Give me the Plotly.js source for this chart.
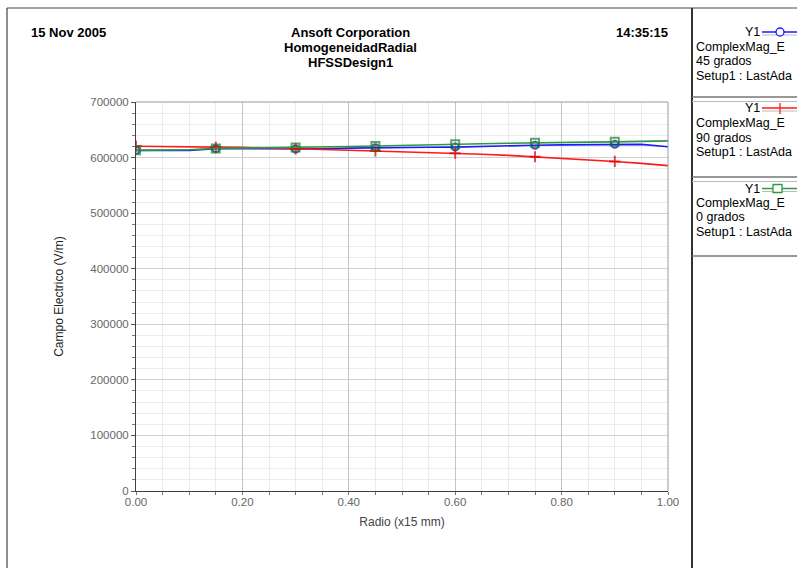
<!DOCTYPE html>
<html>
<head>
<meta charset="utf-8">
<script src="https://cdn.plot.ly/plotly-3.0.1.min.js"></script>
<style>html,body{margin:0;padding:0;background:#fff;}#chart{width:797px;height:568px;}</style>
</head>
<body>
<div id="chart"></div>
<script>
// ---- data ----
const radio = [0, 0.05, 0.10, 0.15, 0.20, 0.25, 0.30, 0.35, 0.40, 0.45, 0.50, 0.55, 0.60, 0.65, 0.70, 0.75, 0.80, 0.85, 0.90, 0.95, 1.00];
const campo45 = [613000, 612800, 613000, 616000, 615800, 615600, 615500, 615600, 617000, 617800, 618200, 618500, 618800, 620000, 622000, 622200, 622800, 623500, 623800, 623800, 619500];
const campo90 = [620500, 620200, 619800, 619000, 618300, 617300, 615500, 614500, 613300, 612000, 610800, 609300, 607800, 606000, 604000, 601500, 599000, 596200, 593000, 589500, 585500];
const campo0  = [613000, 613300, 614000, 616500, 617000, 617300, 618000, 618800, 619800, 620800, 621500, 622800, 624000, 624800, 625800, 626800, 627300, 627800, 628300, 629200, 630000];
const seriesNames = ["45 grados", "90 grados", "0 grados"];
const xTickVals = [0, 0.2, 0.4, 0.6, 0.8, 1.0];
const xTickText = ["0.00", "0.20", "0.40", "0.60", "0.80", "1.00"];
const yTickVals = [0, 100000, 200000, 300000, 400000, 500000, 600000, 700000];
const yTickText = ["0", "100000", "200000", "300000", "400000", "500000", "600000", "700000"];

// ---- layout helpers (pixel -> paper) ----
const L = 136, R = 668, T = 102, B = 491, W = 797, H = 568;
const X = p => (p - L) / (R - L);
const Y = p => (B - p) / (B - T);
const FONT = "Liberation Sans, Arial, sans-serif";

const mk = radio.map((v, i) => (i % 3 === 0 ? 1 : 0));
const blue = "#1a1aff", red = "#ff1a1a", green = "#2e9a3e";

const traces = [
  {x: radio, y: campo45, mode: "lines+markers", line: {color: blue, width: 1.6},
   marker: {symbol: "circle-open", size: mk.map(m => m * 7), color: "#0000cc", line: {width: 2}}},
  {x: radio, y: campo90, mode: "lines+markers", line: {color: red, width: 1.6},
   marker: {symbol: "cross-thin-open", size: mk.map(m => m * 8), color: "#dd0000", line: {width: 2}}},
  {x: radio, y: campo0, mode: "lines+markers", line: {color: green, width: 1.6},
   marker: {symbol: "square-open", size: mk.map(m => m * 8), color: "#1f7a2c", line: {width: 2}}}
];

const ann = [];
function txt(t, px, py, opt) {
  ann.push(Object.assign({text: t, xref: "paper", yref: "paper", x: X(px), y: Y(py),
    showarrow: false, xanchor: "left", yanchor: "middle",
    font: {family: FONT, size: 13, color: "#000"}}, opt || {}));
}
// header
txt("<b>15 Nov 2005</b>", 29, 33);
txt("<b>Ansoft Corporation</b>", 350, 33, {xanchor: "center"});
txt("<b>HomogeneidadRadial</b>", 350, 47.5, {xanchor: "center"});
txt("<b>HFSSDesign1</b>", 350, 62, {xanchor: "center"});
txt("<b>14:35:15</b>", 670, 33, {xanchor: "right"});

// legend panel
const legY = [[32, 46.5, 61, 75.5], [108, 123, 137.5, 152], [188.5, 202.5, 217, 231.5]];
const legCol = [blue, red, green];
const LF = {family: FONT, size: 12.5, color: "#000"};
const shapes = [];
function ln(x0, y0, x1, y1, color, width) {
  shapes.push({type: "line", xref: "paper", yref: "paper", x0: X(x0), y0: Y(y0), x1: X(x1), y1: Y(y1),
    line: {color: color, width: width}});
}
for (let i = 0; i < 3; i++) {
  const ys = legY[i];
  txt("Y1", 762, ys[0], {xanchor: "right", font: LF});
  txt("ComplexMag_E", 694, ys[1], {font: LF});
  txt(seriesNames[i], 694, ys[2], {font: LF});
  txt("Setup1 : LastAda", 694, ys[3], {font: LF});
  ln(762, ys[0], 810, ys[0], legCol[i], 1.3);
  ln(762, ys[0] + 3, 810, ys[0] + 3, "#bbbbbb", 1.2);
}
// legend sample markers
shapes.push({type: "circle", xref: "paper", yref: "paper", x0: X(776), x1: X(784), y0: Y(28), y1: Y(36),
  line: {color: blue, width: 1.3}, fillcolor: "#fff"});
ln(780, 103, 780, 114, red, 1.3);
shapes.push({type: "rect", xref: "paper", yref: "paper", x0: X(773), x1: X(782), y0: Y(184.5), y1: Y(192.5),
  line: {color: green, width: 1.3}, fillcolor: "#fff"});

// frame
ln(7, 8, 800, 8, "#444", 1.2);
ln(7, 8, 7, 570, "#444", 1.2);
ln(692, 8, 692, 570, "#333", 2);
ln(692, 97, 800, 97, "#777", 1.5);
ln(692, 101.5, 800, 101.5, "#bbb", 1.2);
ln(692, 177, 800, 177, "#777", 1.5);
ln(692, 181.5, 800, 181.5, "#bbb", 1.2);
ln(692, 256, 800, 256, "#777", 1.5);
// plot top/right border
ln(L, T, R, T, "#999", 1);
ln(R, T, R, B, "#999", 1);

const layout = {
  width: W, height: H,
  margin: {l: L, r: W - R, t: T, b: H - B, pad: 0},
  paper_bgcolor: "#fff", plot_bgcolor: "#fff",
  showlegend: false,
  font: {family: FONT, color: "#555"},
  xaxis: {
    range: [0, 1], tickvals: xTickVals, ticktext: xTickText,
    showline: true, linecolor: "#404040", linewidth: 1,
    ticks: "", ticklen: 0,
    tickfont: {family: FONT, size: 11.5, color: "#666"},
    showgrid: true, gridcolor: "#c4c4c4", gridwidth: 1, zeroline: false,
    minor: {dtick: 0.05, tick0: 0, showgrid: true, gridcolor: "#ebebeb", ticks: "outside", ticklen: 3, tickcolor: "#777"},
    title: {text: "Radio (x15 mm)", standoff: 10, font: {family: FONT, size: 12, color: "#444"}},
    fixedrange: true
  },
  yaxis: {
    range: [0, 700000], tickvals: yTickVals, ticktext: yTickText,
    showline: true, linecolor: "#404040", linewidth: 1,
    ticks: "outside", ticklen: 4, tickcolor: "#555",
    tickfont: {family: FONT, size: 11.5, color: "#666"},
    showgrid: true, gridcolor: "#d0d0d0", gridwidth: 1, zeroline: false,
    minor: {dtick: 20000, tick0: 0, showgrid: true, gridcolor: "#ebebeb", ticks: "outside", ticklen: 3, tickcolor: "#777"},
    title: {text: "Campo Electrico (V/m)", standoff: 24, font: {family: FONT, size: 12, color: "#222"}},
    fixedrange: true
  },
  annotations: ann,
  shapes: shapes
};

Plotly.newPlot("chart", traces, layout, {displayModeBar: false, staticPlot: true});
</script>
</body>
</html>
